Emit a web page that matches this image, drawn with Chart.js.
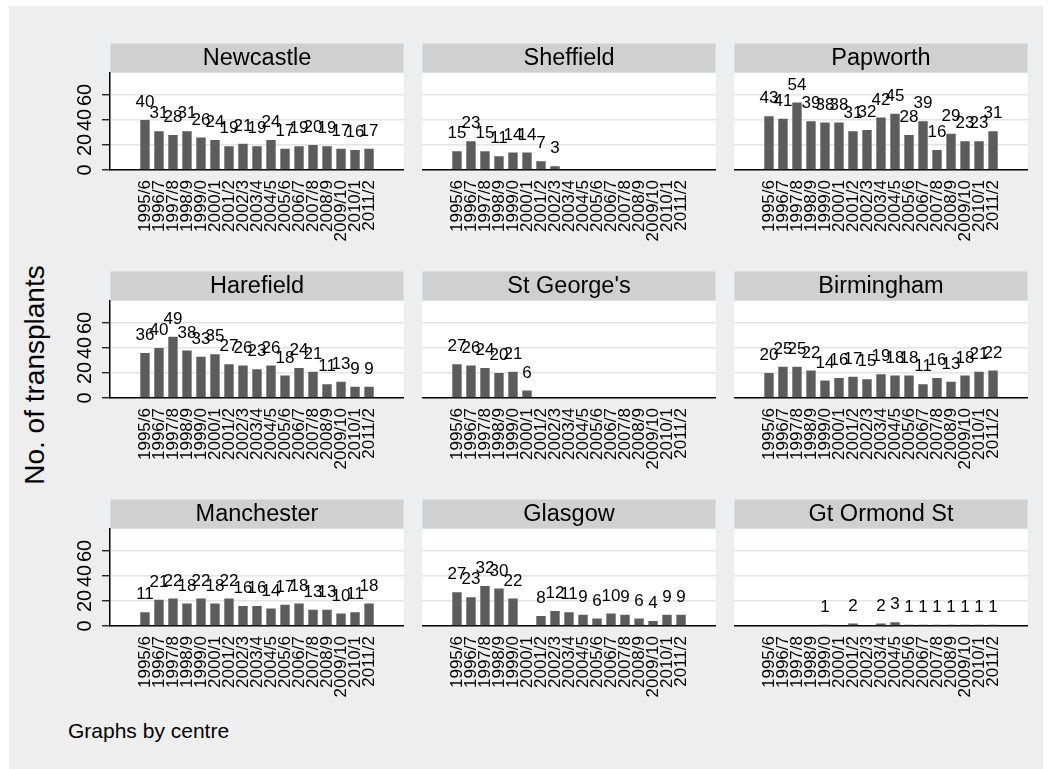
<!DOCTYPE html>
<html>
<head>
<meta charset="utf-8">
<script src="https://cdn.jsdelivr.net/npm/chart.js@4.4.0/dist/chart.umd.min.js"></script>
<style>
  body { margin: 0; background: #fff; width: 1052px; height: 769px; position: relative; overflow: hidden;
         font-family: "Liberation Sans", Arial, sans-serif; }
  #frame { position: absolute; left: 9px; top: 6px; width: 1034px; height: 763px; background: #eeeeee; }
  .panel { position: absolute; }
  #ytitle { position: absolute; width: 300px; height: 30px; line-height: 30px; text-align: center;
            left: -115px; top: 360px; font-size: 28px; transform: rotate(-90deg); color: #000; }
  #note { position: absolute; left: 68px; top: 720px; font-size: 21px; line-height: 21px; color: #000; }
</style>
</head>
<body>
<div id="frame"></div>
<div id="ytitle">No. of transplants</div>
<div id="note">Graphs by centre</div>
<script>
const periods = ['1995/6', '1996/7', '1997/8', '1998/9', '1999/0', '2000/1', '2001/2', '2002/3', '2003/4',
                 '2004/5', '2005/6', '2006/7', '2007/8', '2008/9', '2009/10', '2010/1', '2011/2'];
const centres = ['Newcastle', 'Sheffield', 'Papworth', 'Harefield', "St George's", 'Birmingham',
                 'Manchester', 'Glasgow', 'Gt Ormond St'];
const yTicks = [0, 20, 40, 60];

const newcastle  = [40, 31, 28, 31, 26, 24, 19, 21, 19, 24, 17, 19, 20, 19, 17, 16, 17];
const sheffield  = [15, 23, 15, 11, 14, 14, 7, 3, null, null, null, null, null, null, null, null, null];
const papworth   = [43, 41, 54, 39, 38, 38, 31, 32, 42, 45, 28, 39, 16, 29, 23, 23, 31];
const harefield  = [36, 40, 49, 38, 33, 35, 27, 26, 23, 26, 18, 24, 21, 11, 13, 9, 9];
const stGeorges  = [27, 26, 24, 20, 21, 6, null, null, null, null, null, null, null, null, null, null, null];
const birmingham = [20, 25, 25, 22, 14, 16, 17, 15, 19, 18, 18, 11, 16, 13, 18, 21, 22];
const manchester = [11, 21, 22, 18, 22, 18, 22, 16, 16, 14, 17, 18, 13, 13, 10, 11, 18];
const glasgow    = [27, 23, 32, 30, 22, null, 8, 12, 11, 9, 6, 10, 9, 6, 4, 9, 9];
const gtOrmond   = [null, null, null, null, 1, null, 2, null, 2, 3, 1, 1, 1, 1, 1, 1, 1];

const series = [newcastle, sheffield, papworth, harefield, stGeorges, birmingham, manchester, glasgow, gtOrmond];

const FONT = '"Liberation Sans", Arial, sans-serif';
const colLeft = [110, 422, 734];
const rowTop = [43, 271, 499];
const plotW = 294, plotH = 97, stripH = 30, labelH = 75;

// white plot region + grey title strip over it
const stripPlugin = {
  id: 'strip',
  beforeDraw(chart, args, opts) {
    const { ctx, chartArea: a } = chart;
    ctx.save();
    ctx.fillStyle = '#ffffff';
    ctx.fillRect(a.left, a.top, a.right - a.left, a.bottom - a.top);
    ctx.fillStyle = '#d0d0d0';
    ctx.fillRect(a.left, 0, a.right - a.left, a.top);
    ctx.strokeStyle = '#d6e2e8';
    ctx.lineWidth = 1;
    ctx.strokeRect(a.left + 0.5, 0.5, a.right - a.left - 1, a.top - 1);
    ctx.fillStyle = '#000';
    ctx.font = '23.5px ' + FONT;
    ctx.textAlign = 'center';
    ctx.textBaseline = 'middle';
    ctx.fillText(opts.text, (a.left + a.right) / 2, a.top / 2 + 1);
    ctx.restore();
  }
};

// numbers over the bars
const barLabelPlugin = {
  id: 'barLabels',
  afterDatasetsDraw(chart) {
    const ctx = chart.ctx;
    const ds = chart.data.datasets[0];
    ctx.save();
    ctx.fillStyle = '#000';
    ctx.font = '17px ' + FONT;
    ctx.textAlign = 'center';
    ctx.textBaseline = 'alphabetic';
    chart.getDatasetMeta(0).data.forEach((bar, i) => {
      const v = ds.data[i].y;
      if (v === null) return;
      ctx.fillText(String(v), bar.x, bar.y - 13);
    });
    ctx.restore();
  }
};

// stata-style vertical y tick labels (first column only)
const yLabelPlugin = {
  id: 'yLabels',
  afterDraw(chart, args, opts) {
    if (!opts.show) return;
    const ctx = chart.ctx;
    const y = chart.scales.y;
    ctx.save();
    ctx.fillStyle = '#000';
    ctx.font = '20px ' + FONT;
    ctx.textAlign = 'center';
    ctx.textBaseline = 'middle';
    yTicks.forEach(v => {
      ctx.save();
      ctx.translate(chart.chartArea.left - 25, y.getPixelForValue(v));
      ctx.rotate(-Math.PI / 2);
      ctx.fillText(String(v), 0, 0);
      ctx.restore();
    });
    ctx.restore();
  }
};

centres.forEach((name, idx) => {
  const col = idx % 3, row = Math.floor(idx / 3);
  const axisW = col === 0 ? 50 : 0;
  const wrap = document.createElement('div');
  wrap.className = 'panel';
  wrap.style.left = (colLeft[col] - axisW) + 'px';
  wrap.style.top = rowTop[row] + 'px';
  const canvas = document.createElement('canvas');
  canvas.width = axisW + plotW;
  canvas.height = stripH + plotH + labelH;
  wrap.appendChild(canvas);
  document.body.appendChild(wrap);

  const values = series[idx];
  new Chart(canvas, {
    type: 'bar',
    data: {
      datasets: [{
        data: values.map((v, i) => ({ x: i, y: v })),
        backgroundColor: '#5c5c5c',
        barPercentage: 0.67,
        categoryPercentage: 1
      }]
    },
    options: {
      responsive: false,
      animation: false,
      layout: { padding: { top: stripH } },
      plugins: {
        legend: { display: false },
        tooltip: { enabled: false },
        strip: { text: name },
        yLabels: { show: col === 0 }
      },
      scales: {
        x: {
          type: 'linear',
          min: -1.88,
          max: 17.88,
          afterBuildTicks: s => { s.ticks = periods.map((p, i) => ({ value: i })); },
          afterFit: s => { s.height = labelH; },
          grid: { display: false, drawTicks: false },
          border: { color: '#000', width: 1.5 },
          ticks: {
            autoSkip: false,
            minRotation: 90,
            maxRotation: 90,
            padding: 10,
            color: '#000',
            font: { family: FONT, size: 17 },
            callback: v => periods[v]
          }
        },
        y: {
          min: 0,
          max: 77.6,
          afterBuildTicks: s => { s.ticks = yTicks.map(v => ({ value: v })); },
          afterFit: s => { s.width = axisW; },
          grid: { color: '#e4e4e4', lineWidth: 1.5, drawTicks: col === 0, tickLength: 8, tickColor: '#000', tickWidth: 1.2 },
          border: { display: col === 0, color: '#000', width: 1.5 },
          ticks: { display: false }
        }
      }
    },
    plugins: [stripPlugin, barLabelPlugin, yLabelPlugin]
  });
});
</script>
</body>
</html>
